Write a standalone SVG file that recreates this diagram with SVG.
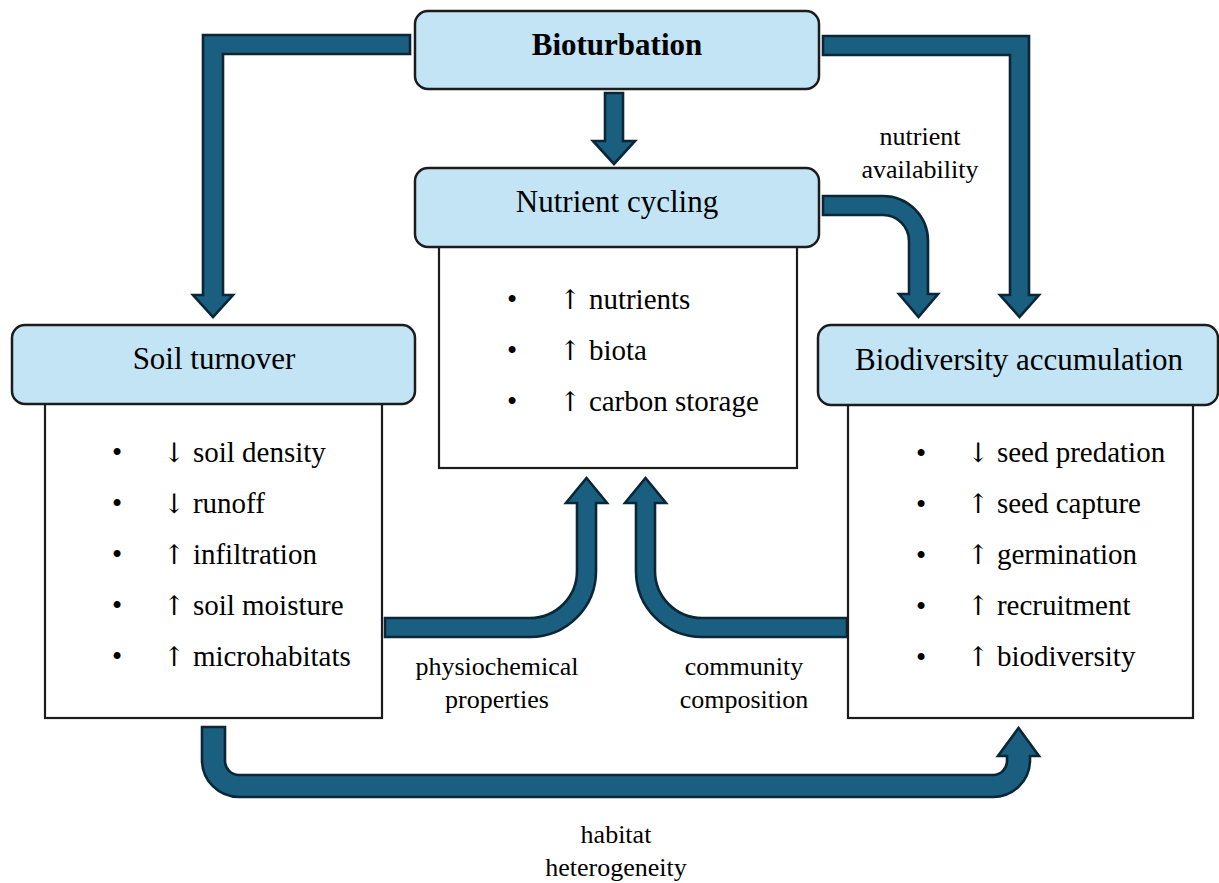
<svg xmlns="http://www.w3.org/2000/svg" width="1219" height="883" viewBox="0 0 1219 883">
<style>
.hdr{fill:#c2e4f5;stroke:#1c1c1c;stroke-width:2.5}
.body{fill:#ffffff;stroke:#1c1c1c;stroke-width:2.2}
.arr{fill:#1a5f80;stroke:#0b2636;stroke-width:2.6;stroke-linejoin:miter}
.ht{font-family:"Liberation Serif","Times New Roman",serif;font-size:31px;fill:#000;text-anchor:middle}
.bt{font-family:"Liberation Serif","Times New Roman",serif;font-size:29px;fill:#000}
.ar{font-family:"DejaVu Serif","Liberation Serif",serif;font-size:27px}
.lb{font-family:"Liberation Serif","Times New Roman",serif;font-size:26px;fill:#000;text-anchor:middle}
</style>
<rect width="1219" height="883" fill="#ffffff"/>
<g id="connectors">
<path class="arr" d="M410,35 L203,35 L203,295 L193,295 L213,317 L233,295 L223,295 L223,54 L410,54 Z"/>
<path class="arr" d="M823,36 L1029,36 L1029,295 L1039,295 L1019.5,317 L1000,295 L1010,295 L1010,55 L823,55 Z"/>
<path class="arr" d="M605,93 L623,93 L623,141 L635,141 L614,164 L593,141 L605,141 Z"/>
<path class="arr" d="M823,196 L883,196 A45,45 0 0 1 928,241 L928,294 L938,294 L918.5,317 L899,294 L909,294 L909,241 A26,26 0 0 0 883,215 L823,215 Z"/>
<path class="arr" d="M385,618 L530,618 A47,47 0 0 0 577,571 L577,503 L566,503 L586.5,478 L607,503 L596,503 L596,571 A66,66 0 0 1 530,637 L385,637 Z"/>
<path class="arr" d="M847,618 L702,618 A47,47 0 0 1 655,571 L655,503 L666,503 L645.5,478 L625,503 L636,503 L636,571 A66,66 0 0 0 702,637 L847,637 Z"/>
<path class="arr" d="M202,727 L225,727 L225,761 A14,14 0 0 0 239,775 L993,775 A14,14 0 0 0 1007,761 L1007,756 L998,756 L1018.5,728 L1039,756 L1030,756 L1030,760 A37,37 0 0 1 993,797 L239,797 A37,37 0 0 1 202,760 Z"/>
<text class="lb" x="920" y="145">nutrient</text>
<text class="lb" x="920" y="178">availability</text>
<text class="lb" x="497" y="675">physiochemical</text>
<text class="lb" x="497" y="708">properties</text>
<text class="lb" x="744" y="675">community</text>
<text class="lb" x="744" y="708">composition</text>
<text class="lb" x="616" y="843">habitat</text>
<text class="lb" x="616" y="876">heterogeneity</text>
</g>
<g id="bioturbation">
<rect class="hdr" x="415" y="11" width="404" height="78" rx="13"/>
<text class="ht" x="617" y="55" font-weight="bold">Bioturbation</text>
</g>
<g id="nutrient-cycling">
<rect class="body" x="439" y="240" width="358" height="228"/>
<rect class="hdr" x="415" y="168" width="404" height="79" rx="13"/>
<text class="ht" x="617" y="212">Nutrient cycling</text>
<text class="bt" x="507" y="309">•</text><text class="bt" x="559" y="309"><tspan class="ar">↑</tspan> nutrients</text>
<text class="bt" x="507" y="360">•</text><text class="bt" x="559" y="360"><tspan class="ar">↑</tspan> biota</text>
<text class="bt" x="507" y="411">•</text><text class="bt" x="559" y="411"><tspan class="ar">↑</tspan> carbon storage</text>
</g>
<g id="soil-turnover">
<rect class="body" x="45" y="398" width="337" height="320"/>
<rect class="hdr" x="12" y="325" width="403" height="79" rx="13"/>
<text class="ht" x="214" y="369">Soil turnover</text>
<text class="bt" x="112" y="462">•</text><text class="bt" x="163" y="462"><tspan class="ar">↓</tspan> soil density</text>
<text class="bt" x="112" y="513">•</text><text class="bt" x="163" y="513"><tspan class="ar">↓</tspan> runoff</text>
<text class="bt" x="112" y="564">•</text><text class="bt" x="163" y="564"><tspan class="ar">↑</tspan> infiltration</text>
<text class="bt" x="112" y="615">•</text><text class="bt" x="163" y="615"><tspan class="ar">↑</tspan> soil moisture</text>
<text class="bt" x="112" y="666">•</text><text class="bt" x="163" y="666"><tspan class="ar">↑</tspan> microhabitats</text>
</g>
<g id="biodiversity-accumulation">
<rect class="body" x="848" y="398" width="345" height="320"/>
<rect class="hdr" x="818" y="325" width="400" height="80" rx="13"/>
<text class="ht" x="1019" y="370">Biodiversity accumulation</text>
<text class="bt" x="916" y="463" font-size="34">•</text><text class="bt" x="967" y="462"><tspan class="ar">↓</tspan> seed predation</text>
<text class="bt" x="916" y="514" font-size="34">•</text><text class="bt" x="967" y="513"><tspan class="ar">↑</tspan> seed capture</text>
<text class="bt" x="916" y="565" font-size="34">•</text><text class="bt" x="967" y="564"><tspan class="ar">↑</tspan> germination</text>
<text class="bt" x="916" y="616" font-size="34">•</text><text class="bt" x="967" y="615"><tspan class="ar">↑</tspan> recruitment</text>
<text class="bt" x="916" y="667" font-size="34">•</text><text class="bt" x="967" y="666"><tspan class="ar">↑</tspan> biodiversity</text>
</g>
</svg>
